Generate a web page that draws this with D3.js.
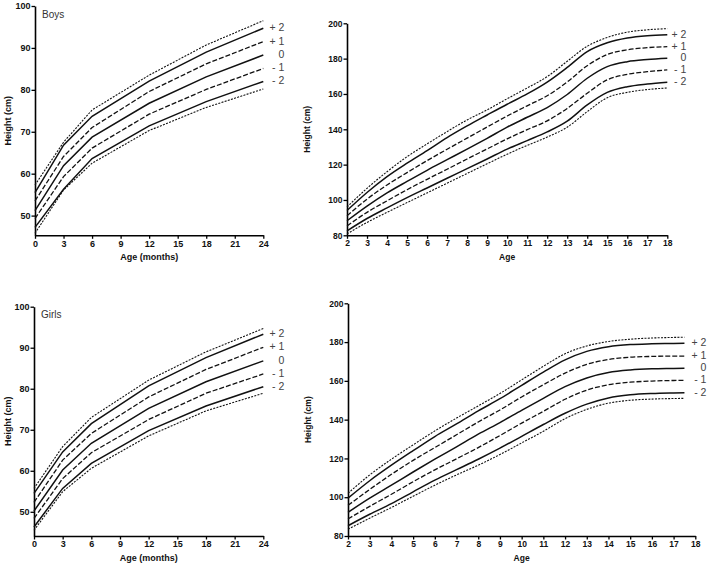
<!DOCTYPE html>
<html><head><meta charset="utf-8">
<script src="https://cdn.jsdelivr.net/npm/d3@7"></script>
<style>
body{margin:0;background:#fff}
svg{display:block}
text{font-family:Arial,"Liberation Sans",Helvetica,sans-serif}
</style>
</head><body>
<svg id="c" width="710" height="567"></svg>
<script>
// ---------- DATA ----------
// Infants, age in months
const infantMonths = [0, 3, 6, 12, 18, 24];
const infantTicks = [0, 3, 6, 9, 12, 15, 18, 21, 24];
const infantYTicks = [50, 60, 70, 80, 90, 100];

const boysInfP3 = [57.3, 67.5, 75.2, 83.5, 90.7, 96.5];
const boysInfP2 = [55.5, 66.8, 73.7, 82.1, 89.0, 94.7];
const boysInfP1 = [53.5, 64.1, 71.0, 79.6, 86.2, 91.5];
const boysInfM0 = [51.2, 61.9, 68.7, 76.8, 83.1, 88.3];
const boysInfM1 = [49.3, 59.3, 66.1, 74.2, 80.1, 85.1];
const boysInfM2 = [47.2, 56.3, 63.6, 71.4, 77.2, 82.0];
const boysInfM3 = [45.8, 56.1, 62.5, 70.3, 75.8, 80.2];

const girlsInfP3 = [55.7, 65.9, 73.0, 82.1, 89.0, 94.7];
const girlsInfP2 = [54.5, 64.6, 71.5, 80.7, 87.6, 93.3];
const girlsInfP1 = [52.3, 62.6, 69.1, 78.0, 84.7, 90.1];
const girlsInfM0 = [50.2, 60.2, 66.7, 75.2, 81.7, 86.8];
const girlsInfM1 = [48.4, 58.1, 64.4, 72.5, 78.9, 83.6];
const girlsInfM2 = [46.3, 55.7, 61.8, 69.8, 75.8, 80.5];
const girlsInfM3 = [45.5, 54.9, 60.6, 68.5, 74.6, 78.9];

// Children, age in years
const boysYears = [2, 3, 4, 5, 6, 7, 8, 9, 10, 11, 12, 13, 14, 15, 16, 17, 18];
const boysP3 = [96.0, 106.6, 116.0, 124.5, 131.7, 138.7, 145.3, 151.0, 157.3, 163.4, 169.8, 178.5, 187.0, 192.0, 195.0, 196.3, 197.0];
const boysP2 = [94.0, 104.2, 113.2, 120.8, 127.9, 135.3, 141.9, 148.1, 154.2, 160.0, 166.7, 175.0, 184.0, 189.0, 191.7, 193.0, 193.5];
const boysP1 = [91.0, 100.5, 108.5, 115.5, 122.3, 128.7, 135.0, 141.3, 147.5, 153.3, 159.0, 166.8, 176.0, 182.3, 185.0, 186.2, 186.8];
const boysM0 = [88.2, 96.5, 104.0, 110.5, 116.8, 122.8, 128.8, 134.9, 141.2, 146.8, 152.3, 159.7, 168.9, 175.5, 178.3, 179.5, 180.2];
const boysM1 = [85.3, 93.0, 99.5, 105.8, 111.7, 117.4, 123.2, 128.9, 134.6, 139.8, 144.8, 151.8, 160.4, 168.0, 171.1, 172.6, 173.6];
const boysM2 = [82.5, 89.5, 95.5, 101.3, 106.8, 112.3, 117.7, 123.2, 128.8, 133.6, 138.5, 144.6, 153.8, 160.9, 164.1, 165.6, 166.6];
const boysM3 = [80.8, 87.3, 93.0, 98.5, 104.0, 109.5, 115.0, 120.5, 125.9, 130.9, 135.6, 141.2, 150.0, 157.9, 160.9, 162.5, 163.4];

const girlsYears = [2, 3, 4, 5, 6, 7, 8, 9, 10, 11, 12, 13, 14, 15, 16, 17, 17.5];
const girlsP3 = [102.0, 111.5, 119.6, 127.0, 134.2, 140.8, 147.1, 153.5, 160.5, 167.5, 174.0, 178.0, 180.3, 181.5, 182.1, 182.4, 182.5];
const girlsP2 = [99.5, 108.5, 116.5, 124.0, 131.3, 137.8, 144.5, 150.8, 157.7, 164.5, 170.8, 175.2, 177.6, 178.7, 179.1, 179.3, 179.4];
const girlsP1 = [95.8, 104.0, 111.8, 119.0, 125.6, 132.2, 138.8, 145.0, 151.7, 158.0, 164.0, 168.5, 171.0, 172.2, 172.6, 172.8, 172.8];
const girlsM0 = [92.2, 99.5, 106.2, 113.0, 119.6, 126.0, 132.5, 138.5, 144.8, 151.0, 157.0, 161.5, 164.3, 165.6, 166.2, 166.4, 166.5];
const girlsM1 = [88.8, 95.3, 101.5, 108.0, 114.1, 119.8, 125.6, 131.8, 138.2, 144.3, 150.5, 155.2, 158.0, 159.3, 159.9, 160.2, 160.3];
const girlsM2 = [85.3, 91.2, 96.7, 102.8, 108.8, 114.2, 119.6, 125.3, 131.4, 137.5, 143.3, 148.0, 151.2, 152.8, 153.5, 153.8, 153.9];
const girlsM3 = [83.5, 89.2, 94.7, 100.5, 106.2, 111.5, 116.5, 122.0, 128.0, 134.0, 140.5, 145.3, 148.5, 150.0, 150.6, 150.9, 151.0];

const yearTicks = d3.range(2, 19);
const childYTicks = [80, 100, 120, 140, 160, 180, 200];

const sdLabels = ["+ 2", "+ 1", "0", "- 1", "- 2"];

// ---------- STYLE ----------
const lineStyles = [
  {dash: "2,1.3", w: 1.1},  // outer dotted
  {dash: null, w: 1.5},     // +2
  {dash: "5,2", w: 1.3},    // +1
  {dash: null, w: 1.5},     // 0
  {dash: "5,2", w: 1.3},    // -1
  {dash: null, w: 1.5},     // -2
  {dash: "2,1.3", w: 1.1}   // outer dotted
];

const panels = [
  {title: "Boys", xs: infantMonths, series: [boysInfP3, boysInfP2, boysInfP1, boysInfM0, boysInfM1, boysInfM2, boysInfM3],
   xDom: [0, 24], xR: [35, 263.3], yDom: [45.3, 100], yR: [235.3, 6], xt: infantTicks, yt: infantYTicks,
   xTitle: "Age (months)", curve: d3.curveLinear, labelDx: 21, yTitleX: 7.5, fs: 9, tfs: 9},
  {title: null, xs: boysYears, series: [boysP3, boysP2, boysP1, boysM0, boysM1, boysM2, boysM3],
   xDom: [2, 18], xR: [347, 667.3], yDom: [80, 200], yR: [235.3, 23.3], xt: yearTicks, yt: childYTicks,
   xTitle: "Age", curve: d3.curveMonotoneX, labelDx: 19, yTitleX: 307, fs: 8.5, tfs: 8.5},
  {title: "Girls", xs: infantMonths, series: [girlsInfP3, girlsInfP2, girlsInfP1, girlsInfM0, girlsInfM1, girlsInfM2, girlsInfM3],
   xDom: [0, 24], xR: [34, 263.3], yDom: [44.1, 100], yR: [536, 306.7], xt: infantTicks, yt: infantYTicks,
   xTitle: "Age (months)", curve: d3.curveLinear, labelDx: 21, yTitleX: 7.5, fs: 9, tfs: 9},
  {title: null, xs: girlsYears, series: [girlsP3, girlsP2, girlsP1, girlsM0, girlsM1, girlsM2, girlsM3],
   xDom: [2, 18], xR: [348, 695.3], yDom: [80, 200], yR: [536, 303.3], xt: yearTicks, yt: childYTicks,
   xTitle: "Age", curve: d3.curveMonotoneX, labelDx: 22, yTitleX: 308, fs: 8.5, tfs: 8.5}
];

const svg = d3.select("#c");

panels.forEach(p => {
  const g = svg.append("g");
  const x = d3.scaleLinear().domain(p.xDom).range(p.xR);
  const y = d3.scaleLinear().domain(p.yDom).range(p.yR);

  // axes
  const xa = g.append("g").attr("transform", `translate(0,${p.yR[0]})`)
    .call(d3.axisBottom(x).tickValues(p.xt).tickFormat(d3.format("d")).tickSize(3.5).tickSizeOuter(0).tickPadding(1.5));
  const ya = g.append("g").attr("transform", `translate(${p.xR[0]},0)`)
    .call(d3.axisLeft(y).tickValues(p.yt).tickFormat(d3.format("d")).tickSize(3.5).tickSizeOuter(0).tickPadding(1));
  [xa, ya].forEach(a => {
    a.select(".domain").attr("stroke", "#000").attr("stroke-width", 1.6);
    a.selectAll(".tick line").attr("stroke", "#000").attr("stroke-width", 1.3);
    a.selectAll(".tick text").attr("fill", "#111").attr("font-size", p.fs).attr("font-weight", "bold")
      .attr("font-family", "Arial, 'Liberation Sans', sans-serif");
  });

  // axis titles
  g.append("text").attr("x", (p.xR[0] + p.xR[1]) / 2).attr("y", p.yR[0] + 25)
    .attr("text-anchor", "middle").attr("font-size", p.tfs).attr("font-weight", "bold").attr("fill", "#111")
    .text(p.xTitle);
  g.append("text").attr("transform", `translate(${p.yTitleX},${(p.yR[0] + p.yR[1]) / 2}) rotate(-90)`)
    .attr("text-anchor", "middle").attr("dominant-baseline", "central")
    .attr("font-size", p.tfs).attr("font-weight", "bold").attr("fill", "#111")
    .text("Height (cm)");

  if (p.title) {
    g.append("text").attr("x", p.xR[0] + 7).attr("y", p.yR[1] + 11.5)
      .attr("font-size", 10).attr("fill", "#333").text(p.title);
  }

  // curves
  const line = d3.line().x(d => x(d[0])).y(d => y(d[1])).curve(p.curve);
  p.series.forEach((s, i) => {
    const pts = p.xs.map((xv, j) => [xv, s[j]]);
    const st = lineStyles[i];
    g.append("path").datum(pts).attr("d", line)
      .attr("fill", "none").attr("stroke", "#111").attr("stroke-width", st.w)
      .attr("stroke-dasharray", st.dash);
  });

  // SD labels at line ends
  const lastX = p.xs[p.xs.length - 1];
  p.series.slice(1, 6).forEach((s, i) => {
    g.append("text").attr("x", x(lastX) + p.labelDx).attr("y", y(s[s.length - 1]) - 1)
      .attr("text-anchor", "end").attr("dominant-baseline", "central")
      .attr("font-size", 10.5).attr("fill", "#444").text(sdLabels[i]);
  });
});
</script>
</body></html>
